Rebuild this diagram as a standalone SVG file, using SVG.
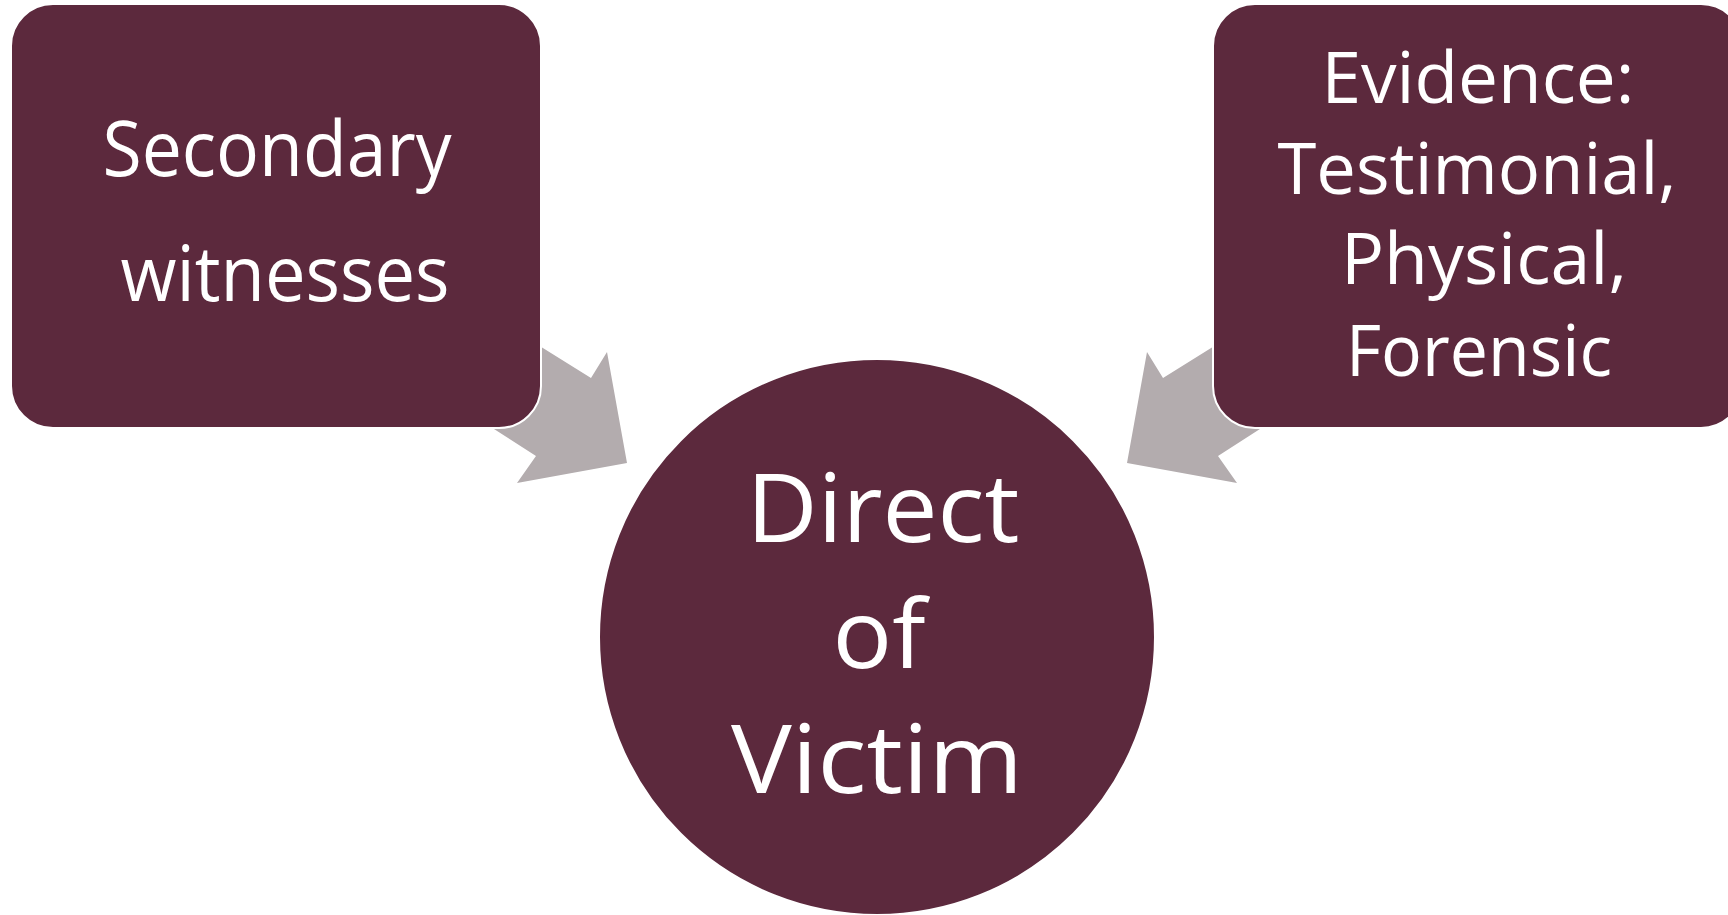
<svg xmlns="http://www.w3.org/2000/svg" width="1728" height="915" viewBox="0 0 1728 915">
<style>
.node{fill:#5C293D;stroke:#FFFFFF;stroke-width:2}
.arrow{fill:#B3ACAE}
.t{fill:#FFFFFF;font-family:"Open Sans","Noto Sans",sans-serif;text-anchor:middle}
</style>
<rect width="1728" height="915" fill="#FFFFFF"/>
<g id="connectors">
<polygon class="arrow" points="450,290 591,378 607,352 627,463 517,483 536,456 405,372"/>
<polygon class="arrow" points="1304,290 1163,378 1147,352 1127,463 1237,483 1218,456 1349,372"/>
</g>
<g id="node-secondary">
<rect class="node" x="11" y="4" width="530" height="424" rx="42" ry="42"/>
<text class="t" font-size="77" x="277" y="176" textLength="349" lengthAdjust="spacingAndGlyphs">Secondary</text>
<text class="t" font-size="77" x="285" y="301" textLength="329" lengthAdjust="spacingAndGlyphs">witnesses</text>
</g>
<g id="node-evidence">
<rect class="node" x="1213" y="4" width="530" height="424" rx="42" ry="42"/>
<text class="t" font-size="71" x="1478" y="103" textLength="313" lengthAdjust="spacingAndGlyphs">Evidence:</text>
<text class="t" font-size="71" x="1477" y="194" textLength="399" lengthAdjust="spacingAndGlyphs">Testimonial,</text>
<text class="t" font-size="71" x="1484" y="284" textLength="286" lengthAdjust="spacingAndGlyphs">Physical,</text>
<text class="t" font-size="71" x="1479" y="376" textLength="266" lengthAdjust="spacingAndGlyphs">Forensic</text>
</g>
<g id="node-direct">
<circle class="node" cx="877" cy="637" r="278"/>
<text class="t" font-size="95" x="883" y="542" textLength="273" lengthAdjust="spacingAndGlyphs">Direct</text>
<text class="t" font-size="95" x="879" y="668" textLength="93" lengthAdjust="spacingAndGlyphs">of</text>
<text class="t" font-size="95" x="877" y="793" textLength="292" lengthAdjust="spacingAndGlyphs">Victim</text>
</g>
</svg>
